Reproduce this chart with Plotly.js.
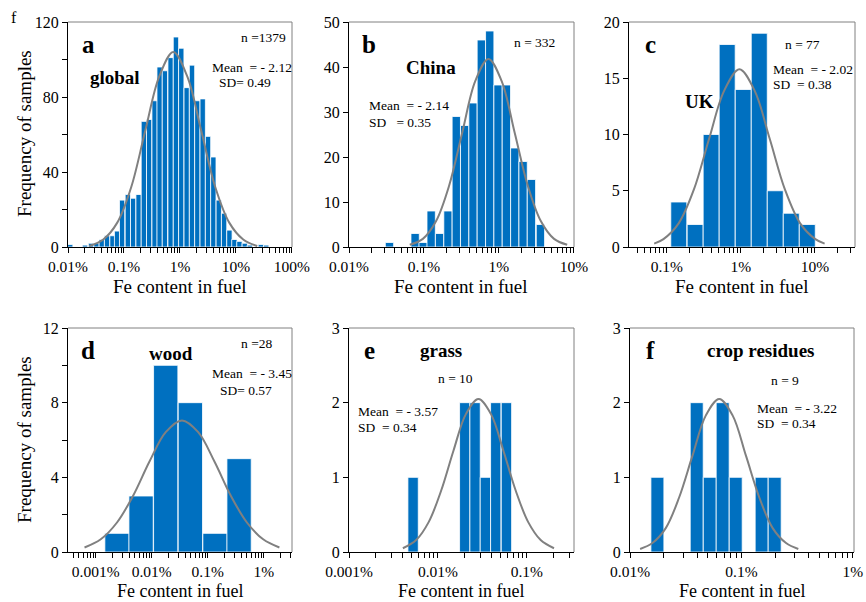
<!DOCTYPE html>
<html>
<head>
<meta charset="utf-8">
<script src="https://cdn.plot.ly/plotly-3.0.1.min.js"></script>
<style>
html,body{margin:0;padding:0;background:#fff;}
#chart{width:866px;height:602px;}
</style>
</head>
<body>
<div id="chart"></div>
<script>
// ---------- DATA (x = log10 of Fe fraction; bars = bin centres) ----------
const globalBins = [-3.961,-3.696,-3.588,-3.491,-3.397,-3.302,-3.205,-3.123,-3.033,-2.931,-2.836,-2.739,-2.645,-2.550,-2.453,-2.363,-2.269,-2.167,-2.072,-1.977,-1.880,-1.785,-1.690,-1.594,-1.499,-1.404,-1.307,-1.212,-1.117,-1.028,-0.938,-0.842,-0.752,-0.555,-0.460];
const globalCounts = [1.3,1,2,2,4,6,6,8.5,25,28,26,28,67,68,78,96,94,101,112,106,85,97,78,79,59,48,25,18,9,4,3,2,1,1.3,1];
const globalFitX = [-3.62,-3.37,-3.12,-2.87,-2.62,-2.37,-2.12,-1.87,-1.62,-1.37,-1.12,-0.87,-0.62];
const globalFitY = [0.5,4,13,32,62,91,104,91,62,32,13,4,0.5];

const chinaBins = [-3.46,-3.118,-3.011,-2.904,-2.792,-2.68,-2.569,-2.457,-2.346,-2.235,-2.123,-2.012,-1.901,-1.789,-1.678,-1.567,-1.447];
const chinaCounts = [1,3,1,8,3,8,29,27,32,46,48,36,36,22,19,15,5];
const chinaFitX = [-3.19,-3.015,-2.84,-2.665,-2.49,-2.315,-2.14,-1.965,-1.79,-1.615,-1.44,-1.265,-1.09];
const chinaFitY = [0.5,1.8,5.7,13.6,25.4,36.9,41.8,36.9,25.4,13.6,5.7,1.8,0.5];

const ukBins = [-2.838,-2.617,-2.401,-2.185,-1.968,-1.752,-1.536,-1.320,-1.104];
const ukCounts = [4,2,10,18,14,19,5,3,2];
const ukFitX = [-3.17,-3.045,-2.84,-2.635,-2.43,-2.225,-2.02,-1.815,-1.61,-1.405,-1.2,-0.995,-0.87];
const ukFitY = [0.3,0.7,2.1,5.1,9.6,13.9,15.8,13.9,9.6,5.1,2.1,0.7,0.3];

const woodBins = [-4.62,-4.19,-3.75,-3.31,-2.87,-2.44];
const woodCounts = [1,3,10,8,1,5];
const woodFitX = [-5.20,-4.91,-4.62,-4.33,-4.04,-3.75,-3.46,-3.17,-2.88,-2.59,-2.30,-2.01,-1.72];
const woodFitY = [0.24,0.68,1.58,3.03,4.85,6.42,7.05,6.42,4.85,3.03,1.58,0.68,0.24];

const grassBins = [-4.28,-3.699,-3.583,-3.467,-3.350,-3.230];
const grassCounts = [1,2,2,1,2,2];
const grassFitX = [-4.395,-4.245,-4.105,-3.965,-3.825,-3.685,-3.545,-3.405,-3.265,-3.125,-2.985,-2.845,-2.695];
const grassFitY = [0.05,0.16,0.40,0.82,1.36,1.85,2.05,1.85,1.36,0.82,0.40,0.16,0.05];

const cropBins = [-3.755,-3.402,-3.285,-3.169,-3.052,-2.819,-2.702];
const cropCounts = [1,2,1,2,1,1,1];
const cropFitX = [-3.91,-3.80,-3.68,-3.56,-3.44,-3.32,-3.20,-3.08,-2.96,-2.84,-2.72,-2.60,-2.49];
const cropFitY = [0.04,0.12,0.32,0.73,1.29,1.83,2.05,1.83,1.29,0.73,0.32,0.12,0.04];

// tick labels
const decadeVals = [-5,-4,-3,-2,-1,0];
const decadeText = ['0.001%','0.01%','0.1%','1%','10%','100%'];
const aYVals = [0,20,40,60,80,100,120];  const aYText = ['0','','40','','80','','120'];
const bYVals = [0,10,20,30,40,50];       const bYText = ['0','10','20','30','40','50'];
const cYVals = [0,5,10,15,20];           const cYText = ['0','5','10','15','20'];
const dYVals = [0,2,4,6,8,10,12];        const dYText = ['0','','4','','8','','12'];
const eYVals = [0,1,2,3];                const eYText = ['0','1','2','3'];
const fYVals = [0,1,2,3];                const fYText = ['0','1','2','3'];

// ---------- LAYOUT ----------
const W = 866, H = 602;
const FONT = 'Liberation Serif, Times New Roman, serif';
const BLUE = '#0070c0';
const GREY = '#808080';

const panels = [
  {bins:globalBins, counts:globalCounts, fx:globalFitX, fy:globalFitY, w:0.0955, xd:[68,292], yd:[22,247], xr:[-4,0.001], yr:[0,120], yv:aYVals, yt:aYText},
  {bins:chinaBins, counts:chinaCounts, fx:chinaFitX, fy:chinaFitY, w:0.111, xd:[349,574], yd:[22,247], xr:[-4,-0.999], yr:[0,50], yv:bYVals, yt:bYText},
  {bins:ukBins, counts:ukCounts, fx:ukFitX, fy:ukFitY, w:0.216, xd:[629,855], yd:[22,247], xr:[-3.51,-0.46], yr:[0,20], yv:cYVals, yt:cYText},
  {bins:woodBins, counts:woodCounts, fx:woodFitX, fy:woodFitY, w:0.434, xd:[68,292], yd:[328,552], xr:[-5.495,-1.495], yr:[0,12], yv:dYVals, yt:dYText},
  {bins:grassBins, counts:grassCounts, fx:grassFitX, fy:grassFitY, w:0.1165, xd:[349,574], yd:[328,552], xr:[-5.001,-2.47], yr:[0,3], yv:eYVals, yt:eYText},
  {bins:cropBins, counts:cropCounts, fx:cropFitX, fy:cropFitY, w:0.1165, xd:[630,854], yd:[328,552], xr:[-4.001,-1.99], yr:[0,3], yv:fYVals, yt:fYText}
];

function xTicks(r){
  const vals=[], text=[];
  for(let k=Math.floor(r[0]); k<=Math.ceil(r[1]); k++){
    for(let m=1;m<=9;m++){
      const v=k+Math.log10(m);
      if(v>=r[0]-1e-9 && v<=r[1]+1e-9){
        vals.push(v);
        const idx=decadeVals.indexOf(k);
        text.push(m===1 && idx>=0 ? decadeText[idx] : '');
      }
    }
  }
  return {vals,text};
}

const data=[];
const layout={
  width:W, height:H,
  margin:{l:0,r:0,t:0,b:0},
  paper_bgcolor:'#fff', plot_bgcolor:'#fff',
  showlegend:false,
  font:{family:FONT, color:'#000', size:16},
  shapes:[], annotations:[]
};

panels.forEach((p,i)=>{
  const n=i+1;
  const xa='x'+(n===1?'':n), ya='y'+(n===1?'':n);
  data.push({type:'bar', x:p.bins, y:p.counts, width:p.w, xaxis:xa, yaxis:ya,
    marker:{color:BLUE, line:{color:'#ffffff', width:0.8}}, hoverinfo:'skip'});
  data.push({type:'scatter', mode:'lines', x:p.fx, y:p.fy, xaxis:xa, yaxis:ya,
    line:{color:GREY, width:2, shape:'spline', smoothing:1}, hoverinfo:'skip'});
  const xt=xTicks(p.xr);
  layout['xaxis'+(n===1?'':n)]={
    domain:[p.xd[0]/W, p.xd[1]/W], range:p.xr, anchor:ya,
    tickmode:'array', tickvals:xt.vals, ticktext:xt.text,
    ticks:'outside', ticklen:5, tickwidth:1, tickcolor:'#000',
    showline:true, linecolor:'#000', linewidth:1,
    showgrid:false, zeroline:false, fixedrange:true,
    tickfont:{family:FONT, size:15.5, color:'#000'}
  };
  layout['yaxis'+(n===1?'':n)]={
    domain:[1-p.yd[1]/H, 1-p.yd[0]/H], range:p.yr, anchor:xa,
    tickmode:'array', tickvals:p.yv, ticktext:p.yt,
    ticks:'outside', ticklen:5, tickwidth:1, tickcolor:'#000',
    showline:true, linecolor:'#000', linewidth:1,
    showgrid:false, zeroline:false, fixedrange:true,
    tickfont:{family:FONT, size:16, color:'#000'}
  };
  // grey top/right frame
  layout.shapes.push({type:'line', xref:xa+' domain', yref:ya+' domain', x0:0, x1:1, y0:1, y1:1, line:{color:GREY, width:1}});
  layout.shapes.push({type:'line', xref:xa+' domain', yref:ya+' domain', x0:1, x1:1, y0:0, y1:1, line:{color:GREY, width:1}});
});

function ann(text, x, y, size, xanchor, extra){
  const a={text:text, xref:'paper', yref:'paper', x:x/W, y:1-y/H, showarrow:false,
    xanchor:xanchor||'center', yanchor:'middle', font:{family:FONT, size:size, color:'#000'}};
  return Object.assign(a, extra||{});
}
const S='\u00a0';
const A=layout.annotations;
// stray label
A.push(ann('f', 14, 17, 16));
// axis titles
[180, 461, 742].forEach(cx=>{
  A.push(ann('Fe content in fuel', cx, 286, 19));
  A.push(ann('Fe content in fuel', cx, 602, 18, 'center', {yanchor:'bottom', borderpad:0}));
});
A.push(ann('Frequency of samples', 24, 134, 19, 'center', {textangle:-90}));
A.push(ann('Frequency of samples', 24, 440, 19, 'center', {textangle:-90}));
// panel a
A.push(ann('<b>a</b>', 88, 44, 25));
A.push(ann('<b>global</b>', 115, 78, 19));
A.push(ann('n'+S+'=1379', 239, 37, 13.5, 'left'));
A.push(ann('Mean'+S+S+'='+S+'-'+S+'2.12', 210, 67, 13.5, 'left'));
A.push(ann('SD='+S+'0.49', 217, 82, 13.5, 'left'));
// panel b
A.push(ann('<b>b</b>', 369, 44, 25));
A.push(ann('<b>China</b>', 431, 67, 19));
A.push(ann('n'+S+'='+S+'332', 512, 42, 13.5, 'left'));
A.push(ann('Mean'+S+S+'='+S+'-'+S+'2.14', 367, 106, 13.5, 'left'));
A.push(ann('SD'+S+S+S+'='+S+'0.35', 367, 122, 13.5, 'left'));
// panel c
A.push(ann('<b>c</b>', 650, 44, 25));
A.push(ann('<b>UK</b>', 699, 101, 19));
A.push(ann('n'+S+'='+S+'77', 783, 45, 13.5, 'left'));
A.push(ann('Mean'+S+S+'='+S+'-'+S+'2.02', 771, 69, 13.5, 'left'));
A.push(ann('SD'+S+S+'='+S+'0.38', 771, 85, 13.5, 'left'));
// panel d
A.push(ann('<b>d</b>', 88, 350, 25));
A.push(ann('<b>wood</b>', 171, 353, 19));
A.push(ann('n'+S+'=28', 239, 343, 13.5, 'left'));
A.push(ann('Mean'+S+S+'='+S+'-'+S+'3.45', 210, 373, 13.5, 'left'));
A.push(ann('SD='+S+'0.57', 218, 390, 13.5, 'left'));
// panel e
A.push(ann('<b>e</b>', 369, 350, 25));
A.push(ann('<b>grass</b>', 441, 350, 19));
A.push(ann('n'+S+'='+S+'10', 436, 378, 13.5, 'left'));
A.push(ann('Mean'+S+S+'='+S+'-'+S+'3.57', 356, 411, 13.5, 'left'));
A.push(ann('SD'+S+S+'='+S+'0.34', 356, 427, 13.5, 'left'));
// panel f
A.push(ann('<b>f</b>', 650, 350, 25));
A.push(ann('<b>crop residues</b>', 761, 350, 19));
A.push(ann('n'+S+'='+S+'9', 769, 380, 13.5, 'left'));
A.push(ann('Mean'+S+S+'='+S+'-'+S+'3.22', 755, 408, 13.5, 'left'));
A.push(ann('SD'+S+S+'='+S+'0.34', 755, 423, 13.5, 'left'));

Plotly.newPlot('chart', data, layout, {displayModeBar:false, staticPlot:true});
</script>
</body>
</html>
